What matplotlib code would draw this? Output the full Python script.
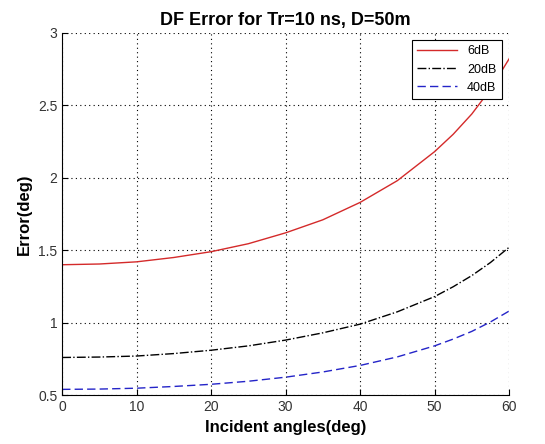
import numpy as np
import matplotlib.pyplot as plt

plt.rcParams['font.family'] = ['Liberation Sans', 'DejaVu Sans']

angles = [0, 5, 10, 15, 20, 25, 30, 35, 40, 45, 50, 52.5, 55, 57.5, 60]
err_6db = [1.40, 1.405, 1.42, 1.45, 1.49, 1.545, 1.62, 1.71, 1.83, 1.98, 2.18, 2.30, 2.44, 2.61, 2.82]
err_20db = [0.76, 0.763, 0.77, 0.787, 0.81, 0.84, 0.88, 0.93, 0.99, 1.075, 1.18, 1.248, 1.325, 1.415, 1.52]
err_40db = [0.54, 0.542, 0.548, 0.56, 0.575, 0.596, 0.624, 0.66, 0.705, 0.764, 0.84, 0.887, 0.94, 1.005, 1.08]

fig = plt.figure(figsize=(5.45, 4.44), dpi=100)
ax = fig.add_axes([0.114, 0.11, 0.82, 0.816])

x = np.array(angles)
ax.plot(x, err_6db, '-', color='#d42a2a', lw=1.0, label='6dB')
ax.plot(x, err_20db, '-.', color='black', lw=1.0, label='20dB')
ax.plot(x, err_40db, '--', color='#2424c8', lw=1.0, label='40dB', dashes=(6, 3))

ax.set_xlim(0, 60)
ax.set_ylim(0.5, 3)
ax.set_xticks([0, 10, 20, 30, 40, 50, 60])
ax.set_yticks([0.5, 1, 1.5, 2, 2.5, 3])
ax.set_yticklabels(['0.5', '1', '1.5', '2', '2.5', '3'])
ax.grid(True, linestyle=(0, (1, 3)), color='black', lw=0.8)
ax.spines['top'].set_visible(False)
ax.spines['right'].set_visible(False)
ax.tick_params(direction='in', length=4, labelsize=10, labelcolor='#333333')

ax.set_xlabel('Incident angles(deg)', fontsize=12, fontweight='bold')
ax.set_ylabel('Error(deg)', fontsize=12, fontweight='bold')
ax.set_title('DF Error for Tr=10 ns, D=50m', fontsize=13, fontweight='bold')

leg = ax.legend(loc='upper right', fontsize=9, fancybox=False, framealpha=1,
                edgecolor='black', borderaxespad=0.6, handlelength=3.2)
leg.get_frame().set_linewidth(0.8)

fig.savefig('out.png', dpi=100)
